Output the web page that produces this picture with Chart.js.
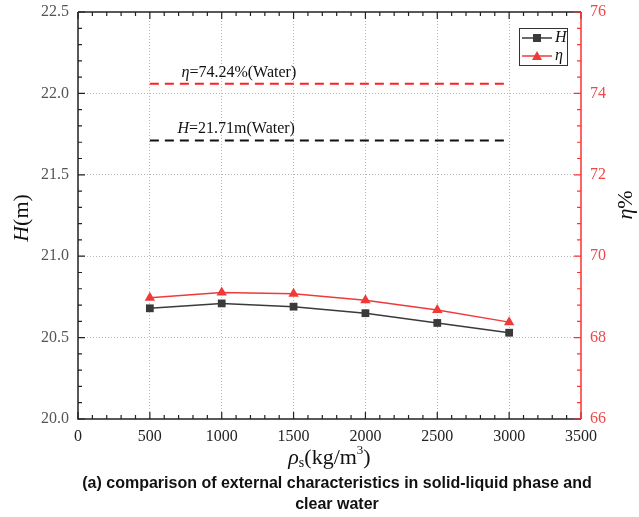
<!DOCTYPE html>
<html>
<head>
<meta charset="utf-8">
<script src="https://cdn.jsdelivr.net/npm/chart.js@4"></script>
<style>
  body { margin: 0; background: #fff; }
  #wrap { width: 639px; height: 517px; }
</style>
</head>
<body>
<div id="wrap"><canvas id="chart" width="639" height="517"></canvas></div>
<script>
// data
const densities = [500, 1000, 1500, 2000, 2500, 3000]
const headValues = [20.68, 20.71, 20.69, 20.65, 20.59, 20.53]
const effValues = [68.98, 69.11, 69.08, 68.92, 68.68, 68.38]
const waterRange = [500, 3000]
const waterHead = 21.71
const waterEff = 74.24
const xTicks = [0, 500, 1000, 1500, 2000, 2500, 3000, 3500]
const headTicks = [20.0, 20.5, 21.0, 21.5, 22.0, 22.5]
const effTicks = [66, 68, 70, 72, 74, 76]

const serif = '"Liberation Serif", "Times New Roman", serif'
const redCol = '#f03a3a'
const darkCol = '#3a3a3a'

function pts(xs, ys) {
    return xs.map((x, i) => ({x: x, y: ys[i]}))
}

// draw a run of [text, italic, size, dy] pieces from x, returns end x
function drawRuns(ctx, runs, x, y, size) {
    runs.forEach(r => {
        let sz = r[2] || size
        let dy = r[3] || 0
        ctx.font = (r[1] ? 'italic ' : '') + sz + 'px ' + serif
        ctx.fillText(r[0], x, y + dy)
        x += ctx.measureText(r[0]).width
    })
    return x
}
function runsWidth(ctx, runs, size) {
    let w = 0
    runs.forEach(r => {
        ctx.font = (r[1] ? 'italic ' : '') + (r[2] || size) + 'px ' + serif
        w += ctx.measureText(r[0]).width
    })
    return w
}

// inward ticks, frame, legend and all the free text
const decorPlugin = {
    id: 'decor',
    afterDatasetsDraw(chart) {
        let ctx = chart.ctx
        let a = chart.chartArea
        let sx = chart.scales.x, sy = chart.scales.y, sy1 = chart.scales.y1
        ctx.save()

        // black frame: left, bottom, top
        ctx.strokeStyle = '#222'
        ctx.lineWidth = 1.5
        ctx.beginPath()
        ctx.moveTo(a.left, a.top); ctx.lineTo(a.left, a.bottom); ctx.lineTo(a.right, a.bottom)
        ctx.moveTo(a.left, a.top); ctx.lineTo(a.right, a.top)
        ctx.stroke()

        // x ticks bottom and top (major every 500, minor every 100)
        ctx.lineWidth = 1.2
        ctx.beginPath()
        for (let v = sx.min; v <= sx.max; v += 100) {
            let px = sx.getPixelForValue(v)
            let len = (v % 500 === 0) ? 7 : 4
            ctx.moveTo(px, a.bottom); ctx.lineTo(px, a.bottom - len)
            ctx.moveTo(px, a.top); ctx.lineTo(px, a.top + len)
        }
        // left y ticks (minor every 0.1)
        for (let i = 0; i <= 25; i++) {
            let v = sy.min + i * 0.1
            let py = sy.getPixelForValue(v)
            let len = (i % 5 === 0) ? 7 : 4
            ctx.moveTo(a.left, py); ctx.lineTo(a.left + len, py)
        }
        ctx.stroke()

        // red right axis
        ctx.strokeStyle = '#ff3030'
        ctx.lineWidth = 1.5
        ctx.beginPath()
        ctx.moveTo(a.right, a.top); ctx.lineTo(a.right, a.bottom)
        ctx.stroke()
        ctx.lineWidth = 1.2
        ctx.beginPath()
        for (let i = 0; i <= 25; i++) {
            let v = sy1.min + i * 0.4
            let py = sy1.getPixelForValue(v)
            let len = (i % 5 === 0) ? 7 : 4
            ctx.moveTo(a.right, py); ctx.lineTo(a.right - len, py)
        }
        ctx.stroke()

        // water labels above dashed lines
        ctx.textBaseline = 'middle'
        ctx.textAlign = 'left'
        ctx.fillStyle = '#111'
        let lx = sx.getPixelForValue(720)
        drawRuns(ctx, [['η', true], ['=' + waterEff.toFixed(2) + '%(Water)', false]], lx, sy1.getPixelForValue(waterEff) - 11, 16)
        drawRuns(ctx, [['H', true], ['=' + waterHead.toFixed(2) + 'm(Water)', false]], lx - 4, sy.getPixelForValue(waterHead) - 12, 16)

        // legend box
        let bx = 519, by = 28
        ctx.strokeStyle = '#333'
        ctx.lineWidth = 1
        ctx.strokeRect(bx + 0.5, by + 0.5, 48, 37)
        let items = [[darkCol, 'rect', 'H'], [redCol, 'triangle', 'η']]
        items.forEach((it, i) => {
            let y = by + 10 + i * 18
            ctx.strokeStyle = it[0]
            ctx.fillStyle = it[0]
            ctx.lineWidth = 1.5
            ctx.beginPath(); ctx.moveTo(bx + 3, y); ctx.lineTo(bx + 33, y); ctx.stroke()
            ctx.beginPath()
            if (it[1] === 'rect') {
                ctx.rect(bx + 14, y - 4, 8, 8)
            } else {
                ctx.moveTo(bx + 18, y - 5); ctx.lineTo(bx + 23, y + 4); ctx.lineTo(bx + 13, y + 4); ctx.closePath()
            }
            ctx.fill()
            ctx.fillStyle = '#111'
            drawRuns(ctx, [[it[2], true]], bx + 36, y, 16)
        })

        // x axis title: rho_s (kg/m^3)
        ctx.fillStyle = '#111'
        let xr = [['ρ', true, 22], ['s', false, 14, 5], ['(kg/m', false, 22], ['3', false, 13, -7], [')', false, 22]]
        let cx = (a.left + a.right) / 2
        drawRuns(ctx, xr, cx - runsWidth(ctx, xr, 22) / 2, 458, 22)

        // left y title
        ctx.save()
        ctx.translate(22, 218)
        ctx.rotate(-Math.PI / 2)
        let lr = [['H', true], ['(m)', false]]
        drawRuns(ctx, lr, -runsWidth(ctx, lr, 22) / 2, 0, 22)
        ctx.restore()

        // right y title
        ctx.save()
        ctx.translate(626, 205)
        ctx.rotate(-Math.PI / 2)
        let rr = [['η', true], ['%', false]]
        drawRuns(ctx, rr, -runsWidth(ctx, rr, 22) / 2, 0, 22)
        ctx.restore()

        // caption
        ctx.textAlign = 'center'
        ctx.font = 'bold 16px "Liberation Sans", Arial, sans-serif'
        ctx.fillText('(a) comparison of external characteristics in solid-liquid phase and', 337, 484)
        ctx.fillText('clear water', 337, 505)

        ctx.restore()
    }
}

function gridColor(lo, hi) {
    return function (c) {
        let v = c.tick ? c.tick.value : null
        return (v !== null && v > lo && v < hi) ? '#b8b8b8' : 'rgba(0,0,0,0)'
    }
}

function fitY(w) {
    return s => {
        s.width = w
        s.paddingTop = 0
        s.paddingBottom = 0
    }
}

let ctx = document.getElementById('chart').getContext('2d')
let myChart = new Chart(ctx, {
    type: 'line',
    data: {
        datasets: [
            {
                label: 'H',
                data: pts(densities, headValues),
                yAxisID: 'y',
                borderColor: darkCol,
                backgroundColor: darkCol,
                borderWidth: 1.5,
                pointStyle: 'rect',
                pointRadius: 5.5,
                pointBorderWidth: 0,
                tension: 0
            },
            {
                label: 'η',
                data: pts(densities, effValues),
                yAxisID: 'y1',
                borderColor: redCol,
                backgroundColor: redCol,
                borderWidth: 1.5,
                pointStyle: 'triangle',
                pointRadius: 6,
                pointBorderWidth: 0,
                tension: 0
            },
            {
                label: 'H water',
                data: pts(waterRange, [waterHead, waterHead]),
                yAxisID: 'y',
                borderColor: '#111',
                borderWidth: 2,
                borderDash: [9, 6],
                pointRadius: 0
            },
            {
                label: 'η water',
                data: pts(waterRange, [waterEff, waterEff]),
                yAxisID: 'y1',
                borderColor: '#ff2020',
                borderWidth: 2,
                borderDash: [9, 6],
                pointRadius: 0
            }
        ]
    },
    options: {
        responsive: false,
        animation: false,
        layout: { padding: { top: 12, left: 0, right: 0, bottom: 0 } },
        plugins: {
            legend: { display: false },
            tooltip: { enabled: false }
        },
        scales: {
            x: {
                type: 'linear',
                min: xTicks[0],
                max: xTicks[xTicks.length - 1],
                afterBuildTicks: s => { s.ticks = xTicks.map(v => ({value: v})) },
                afterFit: s => { s.height = 98; s.paddingLeft = 0; s.paddingRight = 0 },
                border: { display: false, dash: [1, 2] },
                grid: { color: gridColor(0, 3500), drawTicks: false, lineWidth: 1 },
                ticks: { padding: 8, color: '#222', font: { family: serif, size: 16 }, callback: v => String(v) }
            },
            y: {
                position: 'left',
                min: headTicks[0],
                max: headTicks[headTicks.length - 1],
                afterBuildTicks: s => { s.ticks = headTicks.map(v => ({value: v})) },
                afterFit: fitY(78),
                border: { display: false, dash: [1, 2] },
                grid: { color: gridColor(20, 22.5), drawTicks: false, lineWidth: 1 },
                ticks: { padding: 9, color: '#555', font: { family: serif, size: 16 }, callback: v => Number(v).toFixed(1) }
            },
            y1: {
                position: 'right',
                min: effTicks[0],
                max: effTicks[effTicks.length - 1],
                afterBuildTicks: s => { s.ticks = effTicks.map(v => ({value: v})) },
                afterFit: fitY(58),
                border: { display: false },
                grid: { display: false, drawTicks: false },
                ticks: { padding: 9, color: '#f04848', font: { family: serif, size: 16 }, callback: v => String(v) }
            }
        }
    },
    plugins: [decorPlugin]
});
</script>
</body>
</html>
